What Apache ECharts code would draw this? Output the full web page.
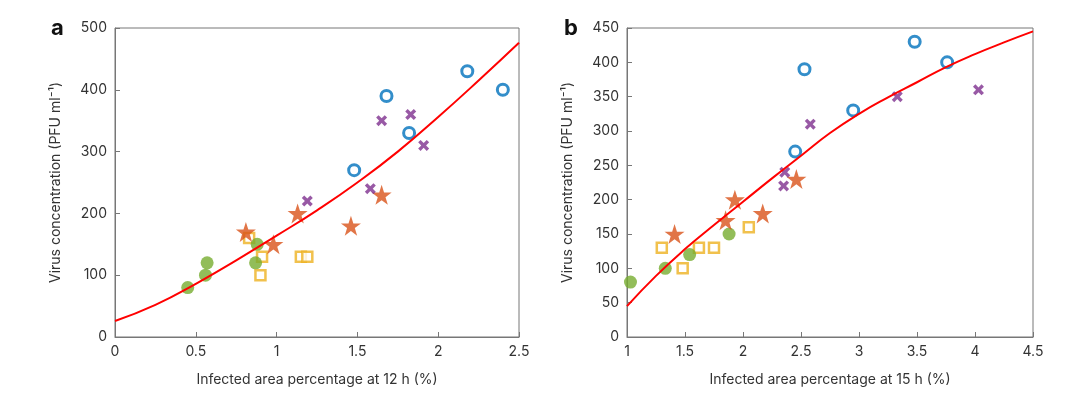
<!DOCTYPE html>
<html>
<head>
<meta charset="utf-8">
<script src="https://cdn.jsdelivr.net/npm/echarts@6/dist/echarts.min.js"></script>
<style>
  html, body { margin: 0; padding: 0; background: #fff; }
  #chart { width: 1080px; height: 398px; }
</style>
</head>
<body>
<div id="chart"></div>
<script>
// panel a: 12 h
const aCircle = [[1.48, 270], [1.68, 390], [1.82, 330], [2.18, 430], [2.40, 400]]
const aCross = [[1.19, 220], [1.58, 240], [1.65, 350], [1.83, 360], [1.91, 310]]
const aStar = [[0.81, 170], [0.98, 150], [1.13, 200], [1.46, 180], [1.65, 230]]
const aSquare = [[0.83, 160], [0.90, 100], [0.91, 130], [1.15, 130], [1.19, 130]]
const aDot = [[0.45, 80], [0.56, 100], [0.57, 120], [0.87, 120], [0.88, 150]]
const aFit = [[0, 26], [0.25, 52], [0.5, 86], [0.75, 124], [1.0, 164], [1.25, 205],
  [1.5, 250], [1.75, 300], [2.0, 356], [2.25, 415], [2.5, 476]]

// panel b: 15 h
const bCircle = [[2.45, 270], [2.53, 390], [2.95, 330], [3.48, 430], [3.76, 400]]
const bCross = [[2.35, 220], [2.36, 240], [2.58, 310], [3.33, 350], [4.03, 360]]
const bStar = [[1.41, 150], [1.85, 170], [1.93, 200], [2.17, 180], [2.46, 230]]
const bSquare = [[1.30, 130], [1.48, 100], [1.62, 130], [1.75, 130], [2.05, 160]]
const bDot = [[1.03, 80], [1.33, 100], [1.54, 120], [1.88, 150]]
const bFit = [[1.0, 45], [1.25, 89], [1.5, 128], [1.75, 163], [2.0, 197], [2.25, 231],
  [2.5, 264], [2.75, 297], [3.0, 325], [3.25, 349], [3.5, 371], [3.75, 393],
  [4.0, 412], [4.25, 429], [4.5, 445]]

const yName = 'Virus concentration (PFU ml\u207B\u00B9)'
const xNames = ['Infected area percentage at 12 h (%)', 'Infected area percentage at 15 h (%)']

const FONT = 'Inter'
const TXT = '#333'
const STAR = 'path://M50,0 L61.8,35.1 L98.9,35.1 L68.9,56.8 L80.3,91.9 L50,70.2 L19.7,91.9 L31.1,56.8 L1.1,35.1 L38.2,35.1 Z'
const CROSS = 'path://M0,22 L22,0 L50,28 L78,0 L100,22 L72,50 L100,78 L78,100 L50,72 L22,100 L0,78 L28,50 Z'

const axisCommon = {
  axisLine: { show: true, lineStyle: { color: '#777', width: 1 } },
  axisTick: { show: true, inside: true, length: 5, lineStyle: { color: '#777' } },
  splitLine: { show: false },
  axisLabel: { color: TXT, fontFamily: FONT, fontSize: 14, margin: 8 },
  nameLocation: 'middle',
  nameTextStyle: { color: TXT, fontFamily: FONT, fontSize: 14 }
}

const makeScatter = (idx) => {
  const sets = idx === 0
    ? [aCircle, aCross, aStar, aSquare, aDot, aFit]
    : [bCircle, bCross, bStar, bSquare, bDot, bFit]
  const base = { type: 'scatter', xAxisIndex: idx, yAxisIndex: idx, silent: true }
  return [
    { ...base, data: sets[3], symbol: 'rect', symbolSize: 10,
      itemStyle: { color: '#fff', borderColor: '#EDB120', borderWidth: 2.5 } },
    { ...base, data: sets[4], symbol: 'circle', symbolSize: 13,
      itemStyle: { color: '#77AC30' } },
    { ...base, data: sets[2], symbol: STAR, symbolSize: 20,
      itemStyle: { color: '#D95319' } },
    { ...base, data: sets[1], symbol: CROSS, symbolSize: 11,
      itemStyle: { color: '#7E2F8E' } },
    { ...base, data: sets[0], symbol: 'circle', symbolSize: 11,
      itemStyle: { color: '#fff', borderColor: '#0072BD', borderWidth: 3 } },
    { type: 'line', xAxisIndex: idx, yAxisIndex: idx, data: sets[5], smooth: true,
      showSymbol: false, silent: true, lineStyle: { color: '#ff0000', width: 2 }, z: 5 }
  ]
}

const chart = echarts.init(document.getElementById('chart'))
chart.setOption({
  animation: false,
  title: [
    { text: 'a', left: 46, top: 12, textStyle: { fontFamily: FONT, fontSize: 22, fontWeight: 'bold', color: '#111' } },
    { text: 'b', left: 559, top: 12, textStyle: { fontFamily: FONT, fontSize: 22, fontWeight: 'bold', color: '#111' } }
  ],
  grid: [
    { left: 115, top: 28, width: 404, height: 309, show: true, borderColor: '#777', borderWidth: 1 },
    { left: 627, top: 28, width: 406, height: 309, show: true, borderColor: '#777', borderWidth: 1 }
  ],
  xAxis: [
    { ...axisCommon, type: 'value', gridIndex: 0, min: 0, max: 2.5, interval: 0.5, name: xNames[0], nameGap: 36 },
    { ...axisCommon, type: 'value', gridIndex: 1, min: 1, max: 4.5, interval: 0.5, name: xNames[1], nameGap: 36 }
  ],
  yAxis: [
    { ...axisCommon, type: 'value', gridIndex: 0, min: 0, max: 500, interval: 100, name: yName, nameGap: 52 },
    { ...axisCommon, type: 'value', gridIndex: 1, min: 0, max: 450, interval: 50, name: yName, nameGap: 52 }
  ],
  series: [...makeScatter(0), ...makeScatter(1)]
})
</script>
</body>
</html>
